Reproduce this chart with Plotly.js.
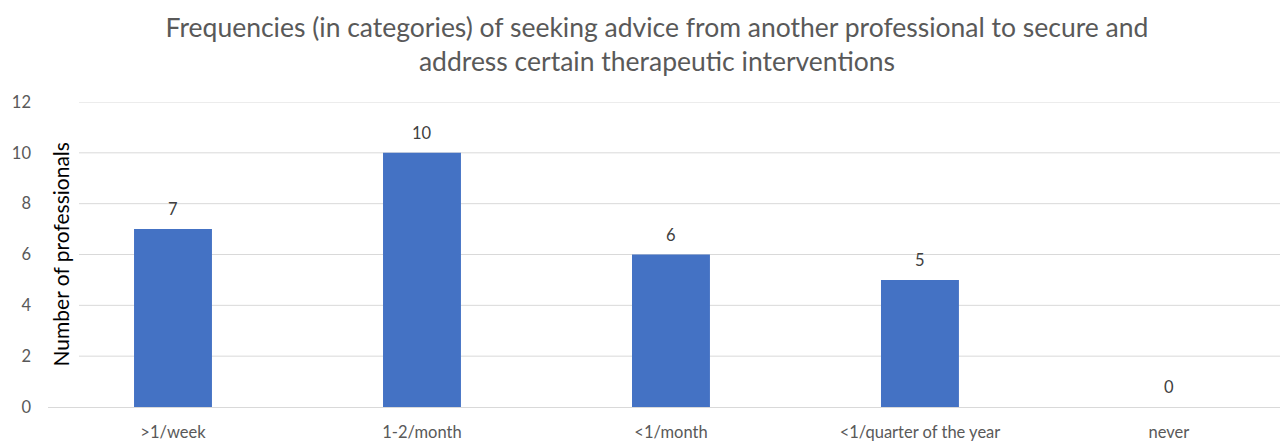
<!DOCTYPE html>
<html><head><meta charset="utf-8">
<script src="https://cdn.plot.ly/plotly-3.0.1.min.js"></script>
<style>html,body{margin:0;padding:0;background:#fff}#c{width:1280px;height:441px}</style>
</head><body><div id="c"></div>
<script>
const categories = [">1/week", "1-2/month", "<1/month", "<1/quarter of the year", "never"];
const professionals = [7, 10, 6, 5, 0];
const yTicks = [0, 2, 4, 6, 8, 10, 12];

const L = 48, W = 1280, R = 0;
const plotW = W - L - R;
const gridStart = (79 - L) / plotW;

const shapes = yTicks.filter(v => v > 0).map(v => ({
  type: 'line', xref: 'paper', yref: 'y', x0: gridStart, x1: 1, y0: v, y1: v,
  line: {color: '#d9d9d9', width: 1}, layer: 'below'
}));

const trace = {
  type: 'bar', x: categories, y: professionals,
  marker: {color: '#4472C4'}, width: 0.313,
  hoverinfo: 'none'
};

const labelAnns = categories.map((c, i) => ({
  x: c, y: professionals[i], xref: 'x', yref: 'y', text: String(professionals[i]),
  showarrow: false, yanchor: 'middle', xanchor: 'center', yshift: 20,
  font: {family: 'Lato, sans-serif', size: 16.5, color: '#404040'}
}));

const layout = {
  width: 1280, height: 441,
  margin: {l: L, r: R, t: 102, b: 34, pad: 0},
  paper_bgcolor: '#fff', plot_bgcolor: '#fff',
  title: {
    text: 'Frequencies (in categories) of seeking advice from another professional to secure and<br>address certain therapeutic interventions',
    font: {family: 'Lato, sans-serif', size: 26.5, color: '#595959'},
    x: 657 / 1280, xref: 'container', xanchor: 'center', y: 1 - 37 / 441, yref: 'container', yanchor: 'middle'
  },
  xaxis: {
    type: 'category', range: [-0.502, 4.446], showgrid: false, zeroline: false,
    showline: true, linecolor: '#d9d9d9', linewidth: 1, ticks: '',
    tickfont: {family: 'Lato, sans-serif', size: 16.5, color: '#595959'},
    ticklabelstandoff: 10
  },
  yaxis: {
    range: [0, 12], tickvals: yTicks, showgrid: false, zeroline: false, showline: false, ticks: '',
    tickfont: {family: 'Lato, sans-serif', size: 16.5, color: '#595959'},
    ticklabelstandoff: 16
  },
  shapes: shapes,
  annotations: labelAnns.concat([{
    text: 'Number of professionals', xref: 'paper', yref: 'paper',
    x: (60 - L) / plotW, y: 0.5, textangle: -90, showarrow: false,
    xanchor: 'center', yanchor: 'middle',
    font: {family: 'Lato, sans-serif', size: 21, color: '#000'}
  }]),
  showlegend: false, bargap: 0.687
};

Plotly.newPlot('c', [trace], layout, {staticPlot: true, displayModeBar: false});
</script></body></html>
